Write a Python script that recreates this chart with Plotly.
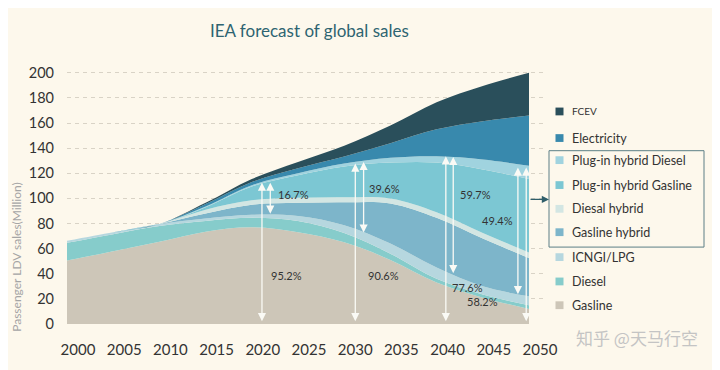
import plotly.graph_objects as go

# ---------------- data ----------------
years = [2000, 2005, 2010, 2015, 2020, 2025, 2030, 2035, 2040, 2045, 2050]

gasline = [50.5, 58.0, 65.5, 73.5, 77.0, 73.0, 65.0, 51.0, 33.0, 21.0, 12.0]
diesel = [14.1, 13.5, 12.5, 8.5, 7.5, 9.0, 7.5, 5.0, 3.0, 2.5, 3.0]
icng_lpg = [1.6, 1.5, 1.6, 2.0, 2.5, 4.0, 6.1, 8.0, 9.0, 6.5, 7.0]
gasline_hybrid = [0, 0, 0, 4.0, 8.0, 10.5, 18.4, 32.0, 39.5, 38.0, 30.5]
diesal_hybrid = [0, 0, 0, 3.0, 3.5, 4.0, 4.0, 4.0, 4.5, 4.5, 4.5]
phev_gasline = [0, 0, 0, 2.0, 11.0, 18.0, 24.5, 28.5, 39.5, 50.5, 58.5]
phev_diesel = [0, 0, 0, 0.5, 1.0, 1.5, 2.2, 3.8, 5.0, 8.0, 10.5]
electricity = [0, 0, 0, 2.0, 2.5, 4.0, 5.6, 11.7, 21.5, 30.5, 40.0]
fcev = [0, 0, 0, 1.0, 2.5, 5.0, 8.7, 14.0, 21.5, 28.0, 34.0]

series_names = ["Gasline", "Diesel", "ICNGI/LPG", "Gasline hybrid", "Diesal hybrid",
                "Plug-in hybrid Gasline", "Plug-in hybrid Diesel", "Electricity", "FCEV"]
series_values = [gasline, diesel, icng_lpg, gasline_hybrid, diesal_hybrid,
                 phev_gasline, phev_diesel, electricity, fcev]
series_colors = ["#CDC6B8", "#86CCCB", "#B6D7DF", "#7DB5CA", "#D3E6E3",
                 "#7CC7D3", "#A0D3DF", "#3889AD", "#2A4F5B"]

legend_order = ["FCEV", "Electricity", "Plug-in hybrid Diesel", "Plug-in hybrid Gasline",
                "Diesal hybrid", "Gasline hybrid", "ICNGI/LPG", "Diesel", "Gasline"]

y_ticks = [0, 20, 40, 60, 80, 100, 120, 140, 160, 180, 200]
x_ticks = [2000, 2005, 2010, 2015, 2020, 2025, 2030, 2035, 2040, 2045, 2050]

# share labels: (text, year, value)
share_labels = [
    ("16.7%", 2024.5, 103.0), ("39.6%", 2034.4, 107.5), ("59.7%", 2044.2, 103.0),
    ("49.4%", 2046.6, 82.7), ("95.2%", 2023.8, 38.5), ("90.6%", 2034.2, 38.5),
    ("77.6%", 2043.3, 29.2), ("58.2%", 2045.0, 17.6),
]
# double arrows: (year, value_top, value_bottom)
share_arrows = [
    (2021.1, 112.5, 1.0), (2022.0, 112.5, 86.6),
    (2031.2, 127.7, 1.0), (2032.1, 129.0, 71.6),
    (2041.0, 133.5, 1.0), (2041.8, 133.0, 39.3),
    (2048.8, 124.6, 22.5), (2049.7, 124.6, 1.0),
]

# ---------------- layout geometry ----------------
# the page body adds an 8px offset, so the figure is drawn 8px smaller
OFF = 8
W, H = 720 - OFF, 370 - OFF
PX_PER_YEAR = 9.24
PX_PER_UNIT = 1.29
ML, MT = 67 - OFF, 66 - OFF
PW, PH = 478, 265
MR = W - ML - PW
MB = H - MT - PH


def px2paper_x(px):
    # px is a position in the 720x370 screenshot
    return (px - OFF - ML) / PW


def px2paper_y(py):
    return (H - MB - (py - OFF)) / PH


BG = "#FDF8EC"
FONT = "Lato, 'Open Sans', sans-serif"

fig = go.Figure()
for name, vals, col in zip(series_names, series_values, series_colors):
    fig.add_trace(go.Scatter(
        x=years, y=vals, name=name, stackgroup="one", mode="lines",
        line=dict(width=0, shape="spline", smoothing=1.0),
        fillcolor=col, hoverinfo="skip", showlegend=False,
    ))

annotations = []
shapes = []

# share arrows
for yr, vtop, vbot in share_arrows:
    annotations.append(dict(
        x=yr, y=vtop, ax=yr, ay=vbot, xref="x", yref="y", axref="x", ayref="y",
        text="", showarrow=True, arrowside="end+start", arrowhead=2, startarrowhead=2,
        arrowsize=1.25, startarrowsize=1.25, arrowwidth=1.3, arrowcolor="#FAFAF5",
    ))
for txt, yr, v in share_labels:
    annotations.append(dict(
        x=yr, y=v, xref="x", yref="y", text=txt, showarrow=False,
        xanchor="center", yanchor="middle",
        font=dict(family=FONT, size=11, color="#333333"),
    ))

# title
annotations.append(dict(
    x=px2paper_x(309), y=px2paper_y(30), xref="paper", yref="paper",
    xanchor="center", yanchor="middle",
    text="IEA forecast of global sales", showarrow=False,
    font=dict(family=FONT, size=17, color="#2E6471"),
))
# y-axis title
annotations.append(dict(
    x=px2paper_x(17), y=px2paper_y(262), xref="paper", yref="paper",
    xanchor="center", yanchor="middle",
    text="Passenger LDV sales(Million)", showarrow=False, textangle=-90,
    font=dict(family=FONT, size=12, color="#A5A5A5"),
))
# watermark
annotations.append(dict(
    x=px2paper_x(700), y=px2paper_y(345), xref="paper", yref="paper",
    xanchor="right", yanchor="middle",
    text="知乎 @天马行空", showarrow=False,
    font=dict(family="Noto Sans CJK SC", size=17, color="#C4C4C4"),
))

# custom legend
legend_y = [112.7, 140, 162.7, 188.3, 212.7, 236.7, 262.3, 287.3, 311.7]
color_of = dict(zip(series_names, series_colors))
for name, py in zip(legend_order, legend_y):
    shapes.append(dict(
        type="rect", xref="paper", yref="paper",
        x0=px2paper_x(555.5), x1=px2paper_x(563.5),
        y0=px2paper_y(py + 4), y1=px2paper_y(py - 4),
        fillcolor=color_of[name], line=dict(width=0),
    ))
    annotations.append(dict(
        x=px2paper_x(570), y=px2paper_y(py), xref="paper", yref="paper",
        xanchor="left", yanchor="middle", text=name, showarrow=False,
        font=dict(family=FONT, size=10 if name == "FCEV" else 12.5, color="#333333"),
    ))
# box around plug-in / hybrid group
shapes.append(dict(
    type="rect", xref="paper", yref="paper",
    x0=px2paper_x(549), x1=px2paper_x(704), y0=px2paper_y(252), y1=px2paper_y(153),
    line=dict(color="#5C7F86", width=1), fillcolor="rgba(0,0,0,0)",
))
# pointer arrow to the box
annotations.append(dict(
    x=px2paper_x(549), y=px2paper_y(203), xref="paper", yref="paper",
    ax=-20, ay=0, text="", showarrow=True, arrowhead=2, arrowsize=1.2,
    arrowwidth=1.2, arrowcolor="#2F5E6A",
))

fig.update_layout(
    width=W, height=H,
    margin=dict(l=ML, r=MR, t=MT, b=MB, pad=0),
    paper_bgcolor=BG, plot_bgcolor=BG,
    annotations=annotations, shapes=shapes,
    showlegend=False,
    xaxis=dict(
        range=[2000, 2000 + PW / PX_PER_YEAR], tickvals=x_ticks,
        ticktext=[str(v) for v in x_ticks],
        showgrid=False, zeroline=False, showline=False, ticks="",
        tickfont=dict(family=FONT, size=15, color="#333333"),
        ticklabelshift=11, ticklabelstandoff=15,
    ),
    yaxis=dict(
        range=[0, PH / PX_PER_UNIT], tickvals=y_ticks,
        showgrid=True, gridcolor="#D9D3C6", griddash="4px,4px", gridwidth=1,
        zeroline=False, showline=False, ticks="",
        tickfont=dict(family=FONT, size=14.5, color="#333333"),
        ticklabelstandoff=12,
    ),
)

fig.write_html("out.html")
